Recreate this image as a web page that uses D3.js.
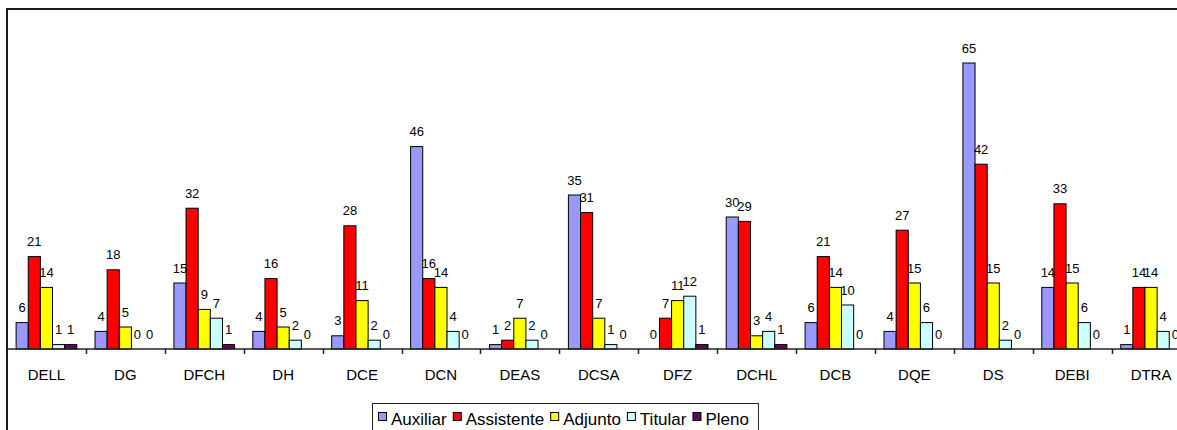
<!DOCTYPE html>
<html>
<head>
<meta charset="utf-8">
<script src="https://cdn.jsdelivr.net/npm/d3@7"></script>
<style>
    body { margin: 0; background: #fff; }
    svg { display: block; font-family: "Liberation Sans", Arial, sans-serif; }
</style>
</head>
<body>
<div id="chart"></div>
<script>
// categories (departments) and the count per professor class
var categories = ["DELL", "DG", "DFCH", "DH", "DCE", "DCN", "DEAS", "DCSA", "DFZ", "DCHL", "DCB", "DQE", "DS", "DEBI", "DTRA"];
var seriesNames = ["Auxiliar", "Assistente", "Adjunto", "Titular", "Pleno"];
var auxiliar = [6, 4, 15, 4, 3, 46, 1, 35, 0, 30, 6, 4, 65, 14, 1];
var assistente = [21, 18, 32, 16, 28, 16, 2, 31, 7, 29, 21, 27, 42, 33, 14];
var adjunto = [14, 5, 9, 5, 11, 14, 7, 7, 11, 3, 14, 15, 15, 15, 14];
var titular = [1, 0, 7, 2, 2, 4, 2, 1, 12, 4, 10, 6, 2, 6, 4];
var pleno = [1, 0, 1, 0, 0, 0, 0, 0, 1, 1, 0, 0, 0, 0, 0];
var seriesColors = ["#9999ff", "#ff0000", "#ffff00", "#ccffff", "#660066"];
var yMax = 70;

var seriesValues = [auxiliar, assistente, adjunto, titular, pleno];

var width = 1177, height = 430;
var step = 78.9;
var plotLeft = 7, baseline = 349, plotTop = 41;

var svg = d3.select("#chart")
    .append("svg")
    .attr("width", width)
    .attr("height", height);

// flatten to one object per bar
var bars = [];
for (var i = 0; i < categories.length; i++) {
    for (var j = 0; j < seriesNames.length; j++) {
        bars.push({
            cat: categories[i],
            series: seriesNames[j],
            value: seriesValues[j][i]
        });
    }
}

var x = d3.scaleBand()
    .domain(categories)
    .range([plotLeft, plotLeft + step * categories.length])
    .padding(0);

// excel gap width 150%
var barW = x.bandwidth() / 6.5;
var xSub = d3.scaleBand()
    .domain(seriesNames)
    .range([0.75 * barW, x.bandwidth() - 0.75 * barW])
    .padding(0);

var y = d3.scaleLinear()
    .domain([0, yMax])
    .range([baseline, plotTop]);

var color = d3.scaleOrdinal()
    .domain(seriesNames)
    .range(seriesColors);

// outer frame (right and bottom edges fall outside the picture)
svg.append("rect")
    .attr("x", 7)
    .attr("y", 9)
    .attr("width", 1400)
    .attr("height", 600)
    .attr("fill", "none")
    .attr("stroke", "#1a1a1a")
    .attr("stroke-width", 2);

// bars
svg.selectAll("rect.bar")
    .data(bars.filter(function (d) { return d.value > 0; }))
    .enter()
    .append("rect")
    .attr("class", "bar")
    .attr("x", function (d) { return x(d.cat) + xSub(d.series); })
    .attr("y", function (d) { return y(d.value); })
    .attr("width", xSub.bandwidth())
    .attr("height", function (d) { return baseline - y(d.value); })
    .attr("fill", function (d) { return color(d.series); })
    .attr("stroke", "#000")
    .attr("stroke-width", 1);

// value labels
svg.selectAll("text.val")
    .data(bars)
    .enter()
    .append("text")
    .attr("class", "val")
    .attr("x", function (d) { return x(d.cat) + xSub(d.series) + xSub.bandwidth() / 2; })
    .attr("y", function (d) { return y(d.value) - 10.5; })
    .attr("text-anchor", "middle")
    .attr("font-size", "13px")
    .attr("fill", "#000")
    .text(function (d) { return d.value; });

// category axis
var xaxis = svg.append("g")
    .attr("class", "x axis")
    .attr("transform", "translate(0," + baseline + ")")
    .call(d3.axisBottom(x).tickSize(0));

xaxis.select("path").remove();
xaxis.selectAll("text")
    .attr("y", 31)
    .attr("dy", 0)
    .attr("font-size", "15px")
    .attr("font-family", "Liberation Sans, Arial, sans-serif")
    .attr("fill", "#000");

xaxis.append("line")
    .attr("x1", plotLeft)
    .attr("x2", width + 20)
    .attr("y1", 0)
    .attr("y2", 0)
    .attr("stroke", "#222")
    .attr("stroke-width", 1.5);

// ticks between categories
xaxis.selectAll("line.sep")
    .data(categories.slice(1))
    .enter()
    .append("line")
    .attr("class", "sep")
    .attr("x1", function (d) { return Math.round(x(d)) + 0.5; })
    .attr("x2", function (d) { return Math.round(x(d)) + 0.5; })
    .attr("y1", 0)
    .attr("y2", 5)
    .attr("stroke", "#222")
    .attr("stroke-width", 1.5);

// legend
var legend = svg.append("g").attr("class", "legend");
var legendBox = legend.append("rect")
    .attr("x", 372.5)
    .attr("y", 403.5)
    .attr("height", 32)
    .attr("fill", "#fff")
    .attr("stroke", "#222")
    .attr("stroke-width", 1);

var lx = 378;
seriesNames.forEach(function (name, i) {
    legend.append("rect")
        .attr("x", lx + 0.5)
        .attr("y", 412.5)
        .attr("width", 8)
        .attr("height", 8)
        .attr("fill", seriesColors[i])
        .attr("stroke", "#000")
        .attr("stroke-width", 1);
    var t = legend.append("text")
        .attr("x", lx + 13)
        .attr("y", 425)
        .attr("font-size", "17px")
        .attr("fill", "#000")
        .text(name);
    lx = lx + 13 + t.node().getComputedTextLength() + 6;
});
legendBox.attr("width", lx - 372 + 3);
</script>
</body>
</html>
